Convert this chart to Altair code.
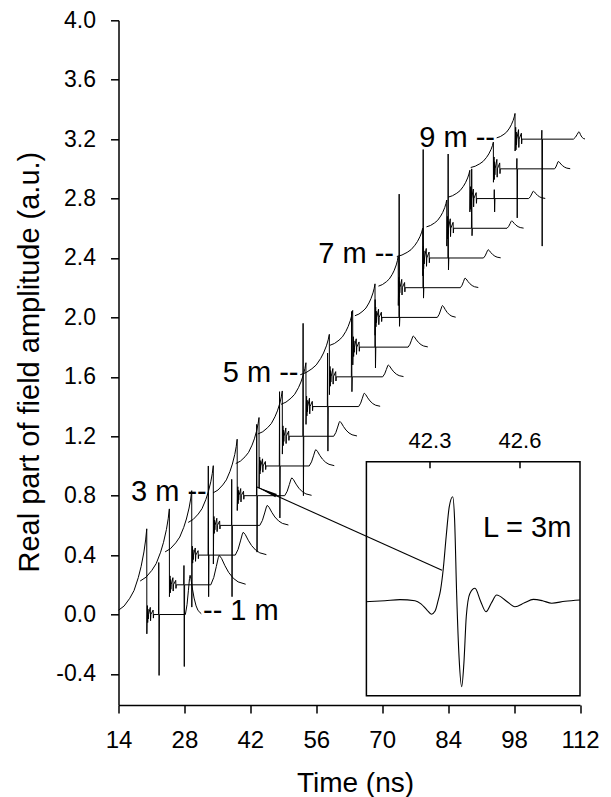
import altair as alt
import pandas as pd

# ---------------- values ----------------
LENGTH_M   = [1.0, 1.5, 2.0, 2.5, 3.0, 3.5, 4.0, 4.5, 5.0, 5.5, 6.0, 6.5, 7.0, 7.5, 8.0, 8.5, 9.0]
BASELINE   = [0.0, 0.2, 0.4, 0.6, 0.8, 1.0, 1.2, 1.4, 1.6, 1.8, 2.0, 2.2, 2.4, 2.6, 2.8, 3.0, 3.2]
FIN_START  = [14.0, 18.6, 23.9, 28.8, 34.1, 38.9, 43.6, 48.5, 52.6, 58.9, 64.2, 69.2, 73.1, 79.4, 84.0, 88.8, 94.3]
FIN_PEAK_T = [20.0, 24.8, 29.55, 34.13, 39.2, 43.84, 48.78, 53.8, 58.77, 63.73, 68.47, 73.4, 78.6, 83.7, 88.6, 93.6, 98.2]
FIN_HEIGHT = [0.577, 0.511, 0.434, 0.402, 0.38, 0.326, 0.305, 0.295, 0.286, 0.247, 0.226, 0.21, 0.20, 0.19, 0.19, 0.18, 0.173]
FIN_DROP   = [0.13, 0.08, 0.35, 0.26, 0.1, 0.15, 0.12, 0.12, 0.12, 0.12, 0.12, 0.12, 0.12, 0.12, 0.09, 0.09, 0.08]
BURST_AMP  = [0.06, 0.06, 0.06, 0.06, 0.06, 0.06, 0.07, 0.07, 0.07, 0.07, 0.07, 0.07, 0.08, 0.08, 0.08, 0.08, 0.08]
PULSE_T    = [22.55, 27.9, 33.07, 38.04, 43.35, 48.2, 53.2, 58.4, 63.5, 68.5, 73.6, 78.7, 84.0, 89.0, 93.8, 98.6, 103.9]
PULSE_UP   = [0.35, 0.13, 0.6, 0.31, 0.48, 0.5, 0.76, 0.36, 0.44, 0.32, 0.83, 0.93, 0.7, 0.4, 0.06, 0.07, 0.06]
PULSE_DOWN = [0.41, 0.55, 0.28, 0.48, 0.38, 0.35, 0.4, 0.3, 0.1, 0.14, 0.06, 0.07, 0.08, 0.05, 0.09, 0.33, 0.72]
BUMP_T     = [29.2, 35.4, 40.5, 45.6, 50.8, 55.9, 61.0, 66.2, 71.3, 76.6, 82.8, 87.6, 92.5, 97.5, 102.1, 107.4, 111.8]
BUMP_H     = [0.264, 0.198, 0.154, 0.135, 0.12, 0.11, 0.1, 0.09, 0.08, 0.075, 0.08, 0.065, 0.056, 0.05, 0.05, 0.05, 0.05]
BUMP_RISE_W  = [1.0, 1.8, 1.7, 1.6, 1.5, 1.4, 1.3, 1.2, 1.2, 1.1, 1.1, 1.0, 1.0, 1.0, 1.0, 0.8, 1.2]
BUMP_DECAY_W = [1.7, 4.0, 3.5, 3.2, 3.0, 2.8, 2.6, 2.4, 2.3, 2.2, 2.0, 2.0, 1.9, 1.8, 1.8, 1.8, 0.9]

# shape profiles (fractions)
FIN_FRAC_T = [0.0, 0.2, 0.4, 0.55, 0.7, 0.8, 0.9, 0.96, 1.0]
FIN_FRAC_V = [0.05, 0.1, 0.19, 0.28, 0.43, 0.56, 0.73, 0.87, 1.0]
BURST_DT = [0.08, 0.14, 0.2, 0.26, 0.32, 0.38, 0.75, 0.81, 0.87, 1.35, 1.41, 1.47]
BURST_A  = [0.0, 1.0, -0.9, 0.6, -0.5, 0.0, 0.8, -0.7, 0.0, 0.5, -0.4, 0.0]
BUMP_RISE_F = [-1.0, -0.65, -0.35, -0.12, 0.0]
BUMP_RISE_V = [0.0, 0.25, 0.62, 0.92, 1.0]
BUMP_DECAY_F = [0.12, 0.3, 0.5, 0.75, 1.0, 1.4]
BUMP_DECAY_V = [0.9, 0.65, 0.42, 0.22, 0.1, 0.02]

# labels
LABEL_RIGHT_TEXT = ["9 m --", "7 m --", "5 m --", "3 m --"]
LABEL_RIGHT_T    = [93.95, 72.5, 52.22, 32.73]
LABEL_RIGHT_V    = [3.15, 2.364, 1.566, 0.767]
LABEL_LEFT_TEXT  = ["-- 1 m"]
LABEL_LEFT_T     = [31.94]
LABEL_LEFT_V     = [-0.036]

# inset (L = 3 m pulse)
INSET_T = [42.087, 42.15, 42.2, 42.25, 42.27, 42.29, 42.305, 42.317, 42.327, 42.335, 42.344, 42.354,
           42.364, 42.3757, 42.382, 42.389, 42.397, 42.4057, 42.413, 42.421, 42.433, 42.45, 42.468,
           42.4867, 42.505, 42.5223, 42.553, 42.5833, 42.615, 42.6443, 42.675, 42.7057, 42.75, 42.8]
INSET_V = [-0.01, 0.0, 0.01, 0.0, -0.03, -0.09, -0.13, -0.1, 0.0, 0.1, 0.3, 0.62,
           0.9, 1.0, 0.78, 0.05, -0.55, -0.827, -0.6, -0.15, 0.07, 0.119, 0.0,
           -0.106, -0.02, 0.055, 0.0, -0.058, -0.02, 0.013, 0.0, -0.025, -0.005, 0.007]
INSET_TICKS = [42.3, 42.6]

X_TICKS = [14, 28, 42, 56, 70, 84, 98, 112]
Y_TICKS = [-0.4, 0.0, 0.4, 0.8, 1.2, 1.6, 2.0, 2.4, 2.8, 3.2, 3.6, 4.0]

# ---------------- layout ----------------
PAD_TOP = 12.3
W, H = 461.5, 684.7
X_DOM = [14, 112]
Y_DOM = [-0.609, 4.0]
# inset scales chosen so the inset box sits in the lower-right of the plot area
IX_DOM = [41.2617, 42.8]
IY_DOM = [-1.003, 5.581]
FONT = "Liberation Sans"

# ---------------- build traces ----------------
rows = []
for k in range(len(BASELINE)):
    b = BASELINE[k]
    pts = []
    ts, tp, h = FIN_START[k], FIN_PEAK_T[k], FIN_HEIGHT[k]
    for ft, fv in zip(FIN_FRAC_T, FIN_FRAC_V):
        pts.append((ts + ft * (tp - ts), b + fv * h))
    pts.append((tp + 0.02, b - FIN_DROP[k]))
    for dt, a in zip(BURST_DT, BURST_A):
        pts.append((tp + dt, b + a * BURST_AMP[k]))
    tq = PULSE_T[k]
    pts += [(tq - 0.05, b), (tq, b + PULSE_UP[k]), (tq + 0.07, b - PULSE_DOWN[k]), (tq + 0.14, b)]
    tb = BUMP_T[k]
    for f, fv in zip(BUMP_RISE_F, BUMP_RISE_V):
        pts.append((tb + f * BUMP_RISE_W[k], b + fv * BUMP_H[k]))
    for f, fv in zip(BUMP_DECAY_F, BUMP_DECAY_V):
        pts.append((tb + f * BUMP_DECAY_W[k], b + fv * BUMP_H[k]))
    for i, (t, v) in enumerate(pts):
        rows.append({"trace": f"{LENGTH_M[k]} m", "i": i, "t": t, "v": v})
traces_df = pd.DataFrame(rows)

xs = alt.Scale(domain=X_DOM, nice=False, zero=False)
ys = alt.Scale(domain=Y_DOM, nice=False, zero=False)

x_axis = alt.Axis(values=X_TICKS, title="Time (ns)", grid=False, labelFlush=False, labelOverlap=False,
                  labelFontSize=24, titleFontSize=28, tickSize=8, tickWidth=1.5, domainWidth=1.5,
                  labelPadding=15, titleX=236.5, titleY=86, titleAlign="center",
                  titleBaseline="alphabetic", titleFontWeight="normal")
y_axis = alt.Axis(values=Y_TICKS, title="Real part of field amplitude (a.u.)", grid=False,
                  labelFlush=False, labelOverlap=False,
                  labelExpr="datum.value < 0 ? '-' + format(-datum.value, '.1f') : format(datum.value, '.1f')",
                  labelFontSize=23, titleFontSize=29, tickSize=8, tickWidth=1.5, domainWidth=1.5,
                  labelPadding=15, titleAngle=-90, titleX=-80, titleY=341.3, titleAlign="center",
                  titleBaseline="alphabetic", titleFontWeight="normal")

traces = alt.Chart(traces_df).mark_line(color="black", strokeWidth=1).encode(
    x=alt.X("t:Q", scale=xs, axis=x_axis),
    y=alt.Y("v:Q", scale=ys, axis=y_axis),
    detail="trace:N",
    order="i:Q",
)

lab_r = alt.Chart(pd.DataFrame({"t": LABEL_RIGHT_T, "v": LABEL_RIGHT_V, "txt": LABEL_RIGHT_TEXT})).mark_text(
    align="right", baseline="alphabetic", fontSize=29, font=FONT, color="black"
).encode(x=alt.X("t:Q", scale=xs), y=alt.Y("v:Q", scale=ys), text="txt:N")

lab_l = alt.Chart(pd.DataFrame({"t": LABEL_LEFT_T, "v": LABEL_LEFT_V, "txt": LABEL_LEFT_TEXT})).mark_text(
    align="left", baseline="alphabetic", fontSize=29, font=FONT, color="black"
).encode(x=alt.X("t:Q", scale=xs), y=alt.Y("v:Q", scale=ys), text="txt:N")

main_layer = alt.layer(traces, lab_r, lab_l)

# ---------------- inset ----------------
ixs = alt.Scale(domain=IX_DOM, nice=False, zero=False)
iys = alt.Scale(domain=IY_DOM, nice=False, zero=False)

box = alt.Chart(pd.DataFrame({"t": [42.088], "t2": [42.8], "v": [-0.913], "v2": [1.3365]})).mark_rect(
    fill="white", stroke="black", strokeWidth=1.5
).encode(x=alt.X("t:Q", scale=ixs, axis=None), x2="t2:Q",
         y=alt.Y("v:Q", scale=iys, axis=None), y2="v2:Q")

inset_curve = alt.Chart(pd.DataFrame({"t": INSET_T, "v": INSET_V, "i": list(range(len(INSET_T)))})).mark_line(
    color="black", strokeWidth=1.1, interpolate="monotone"
).encode(x=alt.X("t:Q", scale=ixs, axis=None), y=alt.Y("v:Q", scale=iys, axis=None), order="i:Q")

inset_ticks = alt.Chart(pd.DataFrame({"t": INSET_TICKS, "v": [1.3365] * 2, "v2": [1.2731] * 2})).mark_rule(
    color="black", strokeWidth=1.5
).encode(x=alt.X("t:Q", scale=ixs, axis=None), y=alt.Y("v:Q", scale=iys, axis=None), y2="v2:Q")

inset_labels = alt.Chart(pd.DataFrame({"t": INSET_TICKS, "v": [1.465] * 2,
                                       "txt": [f"{x:.1f}" for x in INSET_TICKS]})).mark_text(
    align="center", baseline="alphabetic", fontSize=22, font=FONT, color="black"
).encode(x=alt.X("t:Q", scale=ixs, axis=None), y=alt.Y("v:Q", scale=iys, axis=None), text="txt:N")

inset_title = alt.Chart(pd.DataFrame({"t": [42.4767], "v": [0.615], "txt": ["L = 3m"]})).mark_text(
    align="left", baseline="alphabetic", fontSize=29, font=FONT, color="black"
).encode(x=alt.X("t:Q", scale=ixs, axis=None), y=alt.Y("v:Q", scale=iys, axis=None), text="txt:N")

inset_layer = alt.layer(box, inset_curve, inset_ticks, inset_labels, inset_title)

# ---------------- arrow (main coordinates) ----------------
axs = alt.Scale(domain=X_DOM, nice=False, zero=False)
ays = alt.Scale(domain=Y_DOM, nice=False, zero=False)
ARROW_FROM = (82.7, 0.298)
ARROW_TIP = (43.41, 0.858)
shaft = alt.Chart(pd.DataFrame({"t": [ARROW_FROM[0]], "v": [ARROW_FROM[1]],
                                "t2": [ARROW_TIP[0]], "v2": [ARROW_TIP[1]]})).mark_rule(
    color="black", strokeWidth=1.1
).encode(x=alt.X("t:Q", scale=axs, axis=None), y=alt.Y("v:Q", scale=ays, axis=None), x2="t2:Q", y2="v2:Q")
head = alt.Chart(pd.DataFrame({"t": [ARROW_TIP[0]], "v": [ARROW_TIP[1]]})).mark_point(
    shape="M0,0L0.17,2L-0.17,2Z", angle=294.3, size=441, filled=True, color="black", opacity=1
).encode(x=alt.X("t:Q", scale=axs, axis=None), y=alt.Y("v:Q", scale=ays, axis=None))
arrow_layer = alt.layer(shaft, head)

chart = alt.layer(main_layer, inset_layer, arrow_layer).resolve_scale(
    x="independent", y="independent"
).properties(
    width=W, height=H,
    padding={"left": 110.5, "top": PAD_TOP, "right": 20, "bottom": 100},
    autosize=alt.AutoSizeParams(type="none"),
).configure(font=FONT).configure_view(stroke=None).configure_axis(
    labelColor="black", titleColor="black", tickColor="black", domainColor="black",
    labelFont=FONT, titleFont=FONT
)

chart.save("out.html", embed_options={"renderer": "svg", "actions": False})
